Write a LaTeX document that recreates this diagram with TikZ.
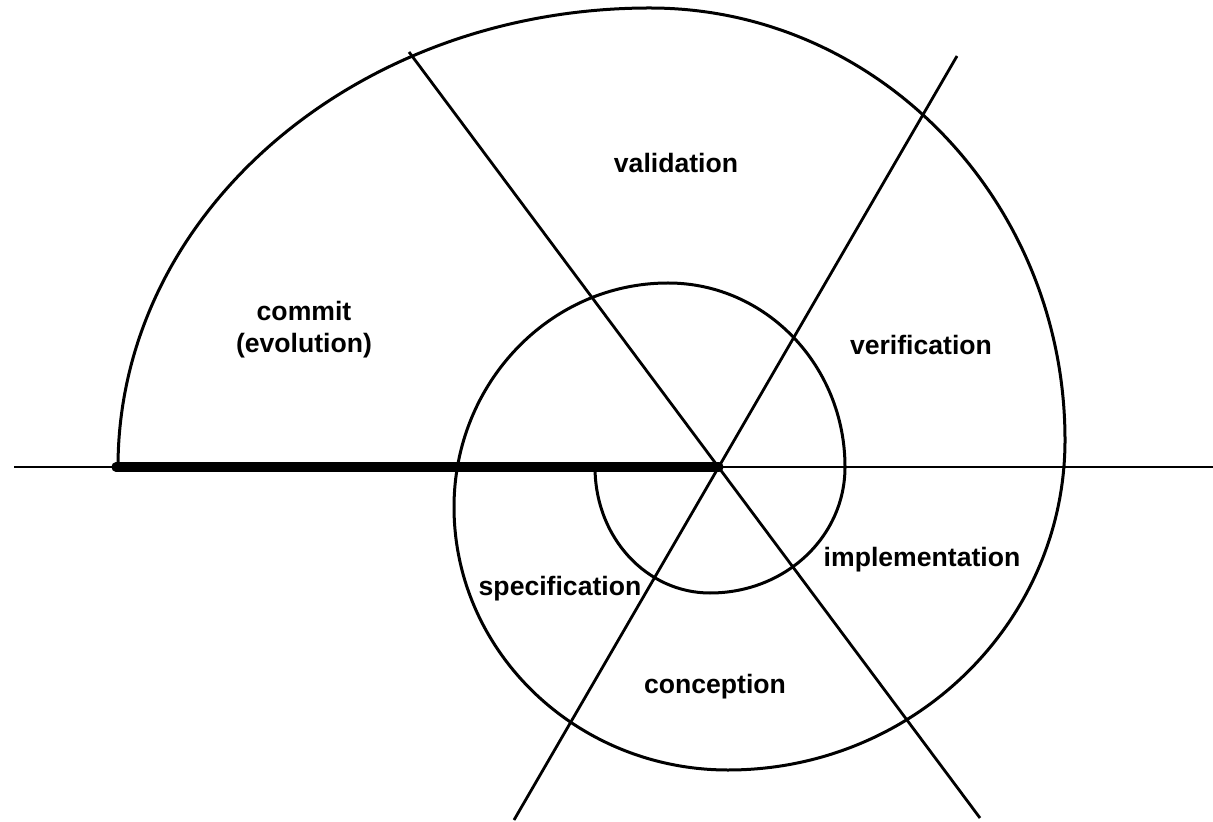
\documentclass[tikz,border=0pt]{standalone}
\usepackage{fontspec}
\setmainfont{Liberation Sans}
\usepackage{tikz}
\usetikzlibrary{calc}
\tikzset{
  every picture/.append style={line width=1.4pt},
  every node/.append style={font=\bfseries\fontsize{13.3}{16}\selectfont},
}
\tikzset{
  axis/.style={draw, line width=1.4pt},
  base/.style={draw, line width=4.6pt, line cap=round},
  spiral/.style={draw, line width=1.5pt},
  phase/.style={align=center, inner sep=0pt}
}

\begin{document}
\begin{tikzpicture}[x=0.5pt, y=-0.5pt]
\useasboundingbox (0,0) rectangle (1213,822);
% centre and ends of the axes
\coordinate (o) at (719,467);
\coordinate (west) at (14,467);
\coordinate (east) at (1213,467);
\coordinate (start) at (116,467);
\coordinate (nw) at (409,52);
\coordinate (se) at (980,818);
\coordinate (ne) at (957,56);
\coordinate (sw) at (514,820);

\draw[axis] (west) -- (east);
\draw[axis] (nw) -- (se);
\draw[axis] (ne) -- (sw);
\draw[base] (start) -- (o);

% the spiral
\draw[spiral] (118,467) .. controls (118,213) and (356,8) .. (650,8)
  .. controls (879,8) and (1065,202) .. (1065,440)
  .. controls (1065,622) and (914,770) .. (728,770)
  .. controls (577,770) and (454,652) .. (454,507)
  .. controls (454,383) and (550,283) .. (668,283)
  .. controls (766,283) and (845,366) .. (845,467)
  .. controls (845,537) and (785,593) .. (710,593)
  .. controls (647,593) and (595,538) .. (595,467);

\node[phase] (valid) at (676,163) {validation};
\node[phase] (commit) at (304,330) {commit\\(evolution)};
\node[phase] (verif) at (921,345) {verification};
\node[phase] (impl) at (922,560) {implementation};
\node[phase] (spec) at (560,589) {specification};
\node[phase] (conc) at (715,687) {conception};
\end{tikzpicture}
\end{document}
